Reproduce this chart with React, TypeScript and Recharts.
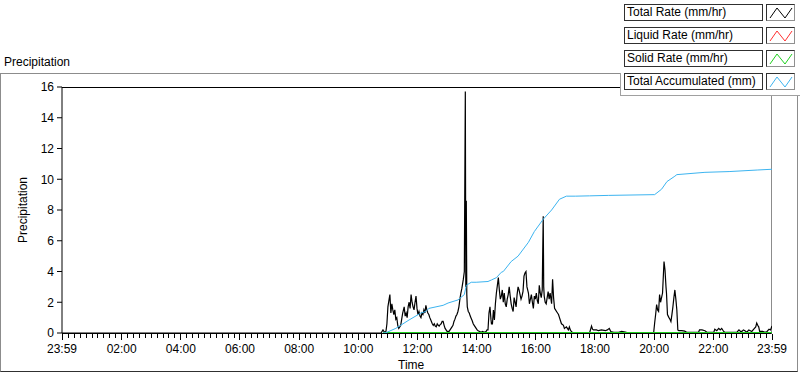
import { LineChart, Line, XAxis, YAxis } from 'recharts';

// minutes from midnight; -1 is the 23:59 of the day before
const rateTimes = [
  -1, 640, 646, 650, 653, 656, 658, 660, 662, 664, 666, 668, 670, 672, 674, 676, 678, 680, 682, 684,
  686, 688, 690, 693, 695, 697, 699, 701, 703, 705, 707, 709, 711, 713, 715, 717, 719, 721, 723, 725,
  727, 729, 731, 733, 735, 737, 739, 741, 743, 745, 747, 750, 752, 754, 756, 758, 760, 762, 764, 766,
  768, 770, 772, 774, 776, 778, 780, 782, 784, 786, 788, 790, 792, 794, 796, 798, 800, 802, 804, 806,
  808, 810, 813, 815, 817, 818, 819, 820, 821, 823, 825, 827, 829, 831, 833, 835, 837, 839, 841, 843,
  846, 849, 852, 855, 859, 861, 863, 865, 867, 869, 870, 872, 874, 876, 878, 880, 882, 884, 886, 888,
  890, 892, 894, 896, 898, 900, 902, 904, 906, 908, 910, 912, 914, 916, 918, 920, 922, 924, 926, 928,
  930, 932, 934, 936, 938, 940, 942, 945, 947, 949, 951, 953, 955, 957, 959, 961, 963, 965, 967, 969,
  971, 973, 974, 975, 976, 977, 979, 981, 983, 985, 987, 989, 992, 994, 996, 998, 1000, 1002, 1004, 1006,
  1008, 1010, 1012, 1014, 1016, 1018, 1020, 1022, 1024, 1026, 1028, 1030, 1032, 1034, 1036, 1042, 1053, 1069, 1073, 1075,
  1077, 1083, 1087, 1093, 1101, 1105, 1109, 1112, 1118, 1128, 1134, 1144, 1154, 1175, 1199, 1201, 1203, 1205, 1207, 1209,
  1211, 1213, 1215, 1217, 1220, 1222, 1224, 1225, 1227, 1230, 1232, 1234, 1236, 1238, 1240, 1242, 1244, 1246, 1248, 1250,
  1256, 1262, 1266, 1276, 1290, 1292, 1297, 1303, 1307, 1313, 1321, 1323, 1327, 1331, 1334, 1337, 1341, 1343, 1352, 1360,
  1368, 1372, 1375, 1378, 1381, 1384, 1388, 1392, 1398, 1402, 1406, 1408, 1410, 1412, 1414, 1420, 1425, 1429, 1433, 1436,
  1439,
];
const totalRate = [
  0, 0, 0, 0.2, 0.05, 0.1, 0.6, 1.7, 2.1, 2.5, 1.3, 1.9, 1.5, 1.2, 1.5, 0.9, 1.0, 0.5, 0.3, 0.4,
  0.5, 0.9, 1.3, 1.7, 1.1, 1.3, 1.0, 1.7, 2.0, 1.6, 2.5, 2.0, 1.7, 1.5, 2.0, 2.4, 1.6, 1.2, 1.4, 1.1,
  1.0, 1.3, 1.2, 1.5, 1.3, 1.8, 1.5, 1.3, 1.2, 1.0, 0.85, 0.6, 0.5, 0.6, 0.45, 0.4, 0.6, 0.5, 0.45, 0.55,
  0.6, 0.75, 0.75, 0.5, 0.3, 0.2, 0.1, 0.1, 0.1, 0.2, 0.3, 0.4, 0.5, 0.75, 0.9, 1.1, 1.2, 1.4, 1.7, 2.2,
  2.6, 2.9, 3.5, 4.0, 15.7, 3.0, 8.6, 2.5, 1.7, 1.4, 1.3, 1.1, 0.95, 0.8, 0.6, 0.5, 0.4, 0.3, 0.2, 0.15,
  0.1, 0.05, 0.1, 0.05, 0.1, 0.2, 0.2, 1.3, 1.7, 0.9, 0.6, 0.6, 1.5, 0.85, 1.9, 2.6, 3.1, 3.6, 2.8, 2.2,
  2.4, 2.8, 2.0, 2.6, 1.9, 1.7, 2.2, 2.5, 3.0, 2.4, 1.9, 1.6, 1.4, 2.3, 2.0, 1.7, 2.5, 3.0, 2.8, 2.5,
  2.2, 2.4, 2.7, 3.7, 3.9, 4.0, 3.0, 2.6, 1.9, 2.2, 2.5, 2.0, 1.6, 2.4, 2.2, 2.6, 2.1, 1.9, 3.1, 2.6,
  2.3, 2.8, 5.3, 7.6, 3.0, 2.4, 2.0, 1.9, 2.3, 2.7, 2.2, 2.6, 1.9, 3.5, 2.3, 1.6, 1.5, 1.4, 1.3, 1.2,
  1.0, 0.8, 0.6, 0.55, 0.5, 0.3, 0.35, 0.4, 0.3, 0.2, 0.4, 0.2, 0.1, 0.05, 0.02, 0, 0, 0, 0.45, 0.25,
  0.2, 0.2, 0.15, 0.2, 0.15, 0.2, 0.3, 0.1, 0.05, 0.05, 0.1, 0.05, 0.02, 0.02, 0.02, 0.65, 1.2, 1.85, 1.5, 1.4,
  2.5, 2.0, 2.3, 2.6, 4.65, 4.1, 3.0, 2.6, 1.2, 1.0, 0.9, 0.75, 1.2, 1.7, 2.3, 2.8, 2.2, 1.5, 0.2, 0.15,
  0.15, 0.12, 0.05, 0.05, 0.05, 0.2, 0.2, 0.15, 0.05, 0.05, 0.05, 0.25, 0.15, 0.3, 0.2, 0.3, 0.1, 0.05, 0.05, 0.05,
  0.05, 0.2, 0.1, 0.1, 0.2, 0.15, 0.05, 0.2, 0.1, 0.25, 0.4, 0.65, 0.5, 0.4, 0.1, 0.1, 0.05, 0.1, 0.25, 0.2,
  0.45,
];

// liquid and solid rate only report from ~10:50 and stay at zero
const phaseTimes = [650, 1439];
const liquidRate = [0, 0];
const solidRate = [0, 0];

const accTimes = [
  650, 656, 676, 703, 727, 737, 743, 772, 782, 802, 815, 819, 829, 839, 863, 870, 880, 890, 894, 910,
  924, 945, 957, 975, 992, 1008, 1022, 1040, 1069, 1107, 1201, 1215, 1226, 1242, 1246, 1303, 1352, 1409, 1439,
];
const totalAccumulated = [
  0, 0.02, 0.3, 0.85, 1.3, 1.4, 1.6, 1.8, 1.95, 2.15, 2.5, 3.1, 3.3, 3.3, 3.35, 3.45, 3.6, 3.95, 4.0, 4.65,
  5.0, 5.9, 6.6, 7.4, 8.0, 8.7, 8.9, 8.9, 8.92, 8.95, 9.0, 9.35, 9.85, 10.2, 10.3, 10.45, 10.5, 10.6, 10.65,
];

const majorTicks = [-1, 120, 240, 360, 480, 600, 720, 840, 960, 1080, 1200, 1320, 1439];
const majorLabels = ['23:59', '02:00', '04:00', '06:00', '08:00', '10:00', '12:00', '14:00', '16:00', '18:00', '20:00', '22:00', '23:59'];
const yTicks = [0, 2, 4, 6, 8, 10, 12, 14, 16];

const legendItems = [
  { label: 'Total Rate (mm/hr)', color: '#000000' },
  { label: 'Liquid Rate (mm/hr)', color: '#ff3030' },
  { label: 'Solid Rate (mm/hr)', color: '#20d020' },
  { label: 'Total Accumulated (mm)', color: '#3cb4f0' },
];

const minorTicks: number[] = [];
for (let m = 12; m < 1439; m += 12) {
  if (!majorTicks.includes(m)) minorTicks.push(m);
}
const allTicks = [...majorTicks, ...minorTicks].sort((a, b) => a - b);

const rateData = rateTimes.map((t, i) => ({ t, v: totalRate[i] }));
const liquidData = phaseTimes.map((t, i) => ({ t, v: liquidRate[i] }));
const solidData = phaseTimes.map((t, i) => ({ t, v: solidRate[i] }));
const accData = accTimes.map((t, i) => ({ t, v: totalAccumulated[i] }));

const FONT = '"Liberation Sans", Arial, sans-serif';

function XTick(props: any) {
  const { x, y, payload } = props;
  const idx = majorTicks.indexOf(payload.value);
  const major = idx >= 0;
  return (
    <g>
      <line x1={x} x2={x} y1={y + 1} y2={y + (major ? 7 : 5)} stroke="#000" shapeRendering="crispEdges" />
      {major && (
        <text x={x} y={y + 20} textAnchor="middle" fontSize={12} fill="#000" fontFamily={FONT}>
          {majorLabels[idx]}
        </text>
      )}
    </g>
  );
}

function LegendIcon({ color }: { color: string }) {
  return (
    <svg width={27} height={15} style={{ display: 'block' }}>
      <polyline points="3,13 10,3 18,13 25,3" fill="none" stroke={color} strokeWidth={1} />
    </svg>
  );
}

export default function App() {
  return (
    <div style={{ position: 'absolute', left: 0, top: 0, width: 800, height: 373, fontFamily: FONT, background: '#fff' }}>
      <div style={{ position: 'absolute', left: 4, top: 55, fontSize: 12, lineHeight: '14px' }}>Precipitation</div>
      <div
        style={{
          position: 'absolute', left: 0, top: 73, width: 796, height: 297,
          borderTop: '1px solid #8c8c8c', borderLeft: '1px solid #8c8c8c',
          borderRight: '1px solid #8c8c8c', borderBottom: '1px solid #303030',
        }}
      />
      {/* plot frame: black top and bottom, grey right edge */}
      <div
        style={{
          position: 'absolute', left: 62, top: 87, width: 709, height: 245,
          borderTop: '1px solid #000', borderRight: '1px solid #8c8c8c', borderBottom: '1px solid #000',
        }}
      />
      <div style={{ position: 'absolute', left: 23, top: 210, width: 0, height: 0 }}>
        <div
          style={{
            position: 'absolute', left: -40, top: -7, width: 80, textAlign: 'center',
            fontSize: 12, lineHeight: '14px', transform: 'rotate(-90deg)', whiteSpace: 'nowrap',
          }}
        >
          Precipitation
        </div>
      </div>
      <div style={{ position: 'absolute', left: 398, top: 358, fontSize: 12, lineHeight: '14px' }}>Time</div>

      <div style={{ position: 'absolute', left: 0, top: 0 }}>
        <LineChart width={800} height={373} margin={{ top: 87, right: 28, bottom: 0, left: 0 }}>
          <XAxis
            dataKey="t"
            type="number"
            domain={[-1, 1439]}
            ticks={allTicks}
            interval={0}
            tickSize={0}
            tickMargin={0}
            tickLine={false}
            tick={<XTick />}
            height={40}
            allowDataOverflow
            axisLine={false}
          />
          <YAxis
            type="number"
            domain={[0, 16]}
            ticks={yTicks}
            interval={0}
            width={62}
            tickSize={5}
            tickMargin={3}
            tick={{ fontSize: 12, fill: '#000', fontFamily: FONT }}
            tickLine={{ stroke: '#000' }}
            axisLine={{ stroke: '#000' }}
            allowDataOverflow
          />
          <Line data={rateData} dataKey="v" type="linear" stroke="#000000" strokeWidth={1.2} dot={false} isAnimationActive={false} />
          <Line data={liquidData} dataKey="v" type="linear" stroke="#ff3030" strokeWidth={2} dot={false} isAnimationActive={false} />
          <Line data={solidData} dataKey="v" type="linear" stroke="#20d020" strokeWidth={2} dot={false} isAnimationActive={false} />
          <Line data={accData} dataKey="v" type="linear" stroke="#3cb4f0" strokeWidth={1} dot={false} isAnimationActive={false} />
        </LineChart>
      </div>

      <div style={{ position: 'absolute', left: 620, top: 0, width: 180, height: 95, background: '#fff', borderBottom: '1px solid #a0a0a0' }} />
      <div style={{ position: 'absolute', left: 620, top: 73, width: 0, height: 22, borderLeft: '1px solid #a0a0a0' }} />
      {legendItems.map((item, i) => (
        <div key={item.label}>
          <div
            style={{
              position: 'absolute', left: 624, top: 4 + i * 23, width: 137, height: 15,
              border: '1px solid #303030', fontSize: 12, lineHeight: '15px',
              whiteSpace: 'nowrap', overflow: 'hidden',
            }}
          >
            <span style={{ marginLeft: 2 }}>{item.label}</span>
          </div>
          <div
            style={{
              position: 'absolute', left: 766, top: 4 + i * 23, width: 27, height: 15,
              borderTop: '1px solid #303030', borderLeft: '1px solid #303030',
              borderRight: '1px solid #909090', borderBottom: '1px solid #909090',
            }}
          >
            <LegendIcon color={item.color} />
          </div>
        </div>
      ))}
    </div>
  );
}
